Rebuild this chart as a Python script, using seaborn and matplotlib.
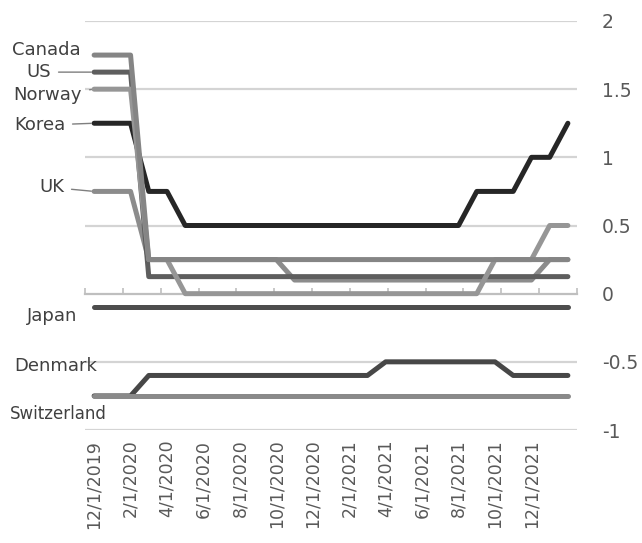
import numpy as np
import pandas as pd
import matplotlib
matplotlib.use("Agg")
import matplotlib.pyplot as plt
import seaborn as sns

# Monthly policy rates, 12/2019 .. 2/2022
months = pd.date_range("2019-12-01", periods=27, freq="MS")

canada = [1.75, 1.75, 1.75] + [0.25] * 24
us = [1.625, 1.625, 1.625] + [0.125] * 24
norway = [1.5, 1.5, 1.5, 0.25, 0.25] + [0.0] * 17 + [0.25, 0.25, 0.25, 0.5, 0.5]
korea = [1.25, 1.25, 1.25, 0.75, 0.75] + [0.5] * 16 + [0.75, 0.75, 0.75, 1.0, 1.0, 1.25]
uk = [0.75, 0.75, 0.75] + [0.25] * 8 + [0.1] * 14 + [0.25, 0.25]
japan = [-0.1] * 27
denmark = [-0.75, -0.75, -0.75] + [-0.6] * 13 + [-0.5] * 7 + [-0.6] * 4
switzerland = [-0.75] * 27

tick_labels = ["12/1/2019", "2/1/2020", "4/1/2020", "6/1/2020", "8/1/2020",
               "10/1/2020", "12/1/2020", "2/1/2021", "4/1/2021", "6/1/2021",
               "8/1/2021", "10/1/2021", "12/1/2021"]

series = {
    "Korea": korea,
    "Denmark": denmark,
    "Japan": japan,
    "Switzerland": switzerland,
    "UK": uk,
    "US": us,
    "Norway": norway,
    "Canada": canada,
}
colors = {
    "Korea": "#262626",
    "Denmark": "#474747",
    "Japan": "#4d4d4d",
    "Switzerland": "#8a8a8a",
    "UK": "#8c8c8c",
    "US": "#5e5e5e",
    "Norway": "#969696",
    "Canada": "#858585",
}

df = pd.concat(
    [pd.DataFrame({"month": np.arange(len(months)), "rate": v, "country": k})
     for k, v in series.items()],
    ignore_index=True,
)

sns.set_style("white")
plt.rcParams["font.family"] = ["DejaVu Sans"]
plt.rcParams["axes.unicode_minus"] = False

fig = plt.figure(figsize=(6.42, 5.43), dpi=100)
ax = fig.add_axes([85 / 642, 113 / 543, 492 / 642, 409 / 543])

sns.lineplot(data=df, x="month", y="rate", hue="country", hue_order=list(series),
             palette=colors, linewidth=3.6, legend=False, ax=ax,
             solid_capstyle="round", solid_joinstyle="round", zorder=3)

ax.set_xlim(-0.5, len(months) - 0.5)
ax.set_ylim(-1, 2)
sns.despine(ax=ax, left=True, bottom=True, right=True, top=True)

# gridlines
yt = np.arange(-1, 2.01, 0.5)
ax.set_yticks(yt)
ax.set_yticklabels([f"{v:g}" for v in yt])
for v in yt:
    if v != 0:
        ax.axhline(v, color="#d4d4d4", lw=1.6, zorder=1)
ax.yaxis.tick_right()
ax.tick_params(axis="y", length=0, pad=18, labelsize=13.5, labelcolor="#595959")
ax.set_ylabel("")
ax.set_xlabel("")

# x axis labels at bottom
ax.set_xticks(np.arange(0, 25, 2))
ax.set_xticklabels(tick_labels, rotation=90, va="top", ha="center")
ax.tick_params(axis="x", length=0, pad=7, labelsize=12.5, labelcolor="#595959")

# horizontal axis line at zero with tick marks
sec = ax.secondary_xaxis(1 / 3)
sec.set_xticks(np.linspace(-0.5, len(months) - 0.5, 14))
sec.tick_params(axis="x", direction="in", length=4, width=1.2, color="#bfbfbf",
                labelbottom=False, labeltop=False)
for s in sec.spines.values():
    s.set_color("#bfbfbf")
    s.set_linewidth(1.6)

# country labels
label_pos = {
    "Canada": (-13, 5, False),
    "US": (-43, 0, True),
    "Norway": (-12, -6, True),
    "Korea": (-29, -2, True),
    "UK": (-30, 4, True),
    "Japan": (-17, -9, False),
    "Denmark": (3, 30, False),
    "Switzerland": (13, -18, False),
}
for name, (dx, dy, leader) in label_pos.items():
    size = 12 if name == "Switzerland" else 13
    ax.annotate(name, xy=(0, series[name][0]), xytext=(dx, dy),
                textcoords="offset pixels", ha="right", va="center",
                fontsize=size, color="#404040", annotation_clip=False,
                arrowprops=dict(arrowstyle="-", color="#7f7f7f", lw=1,
                                shrinkA=3, shrinkB=2) if leader else None)

fig.savefig("out.png", dpi=100)
